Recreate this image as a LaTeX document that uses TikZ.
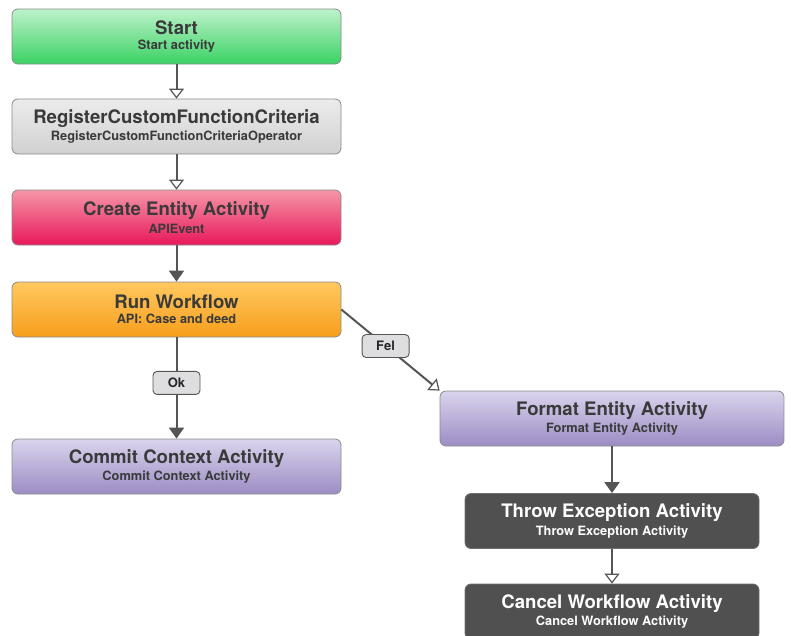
\documentclass[tikz,border=0pt]{standalone}
\usepackage{fontspec}
\setmainfont{TeX Gyre Heros}
\usetikzlibrary{arrows.meta}

\definecolor{linegray}{HTML}{555555}
\definecolor{textgray}{HTML}{3A3A3A}
\definecolor{bordergray}{HTML}{8A8A8A}

\newcommand{\acttext}[2]{{\fontsize{18.6}{20}\selectfont\bfseries #1}\\[3pt]{\fontsize{12.8}{14}\selectfont\bfseries #2}}

\tikzset{
  activity/.style={draw=bordergray, line width=0.8pt, rounded corners=6pt,
    minimum width=#1, minimum height=55pt, align=center, text=textgray,
    inner sep=0pt},
  activity/.default=329pt,
  greenact/.style={activity, top color={rgb,255:red,190;green,242;blue,202}, bottom color={rgb,255:red,58;green,210;blue,100}},
  grayact/.style={activity, top color={rgb,255:red,236;green,236;blue,236}, bottom color={rgb,255:red,208;green,208;blue,210}},
  pinkact/.style={activity, top color={rgb,255:red,245;green,150;blue,168}, bottom color={rgb,255:red,232;green,24;blue,90}},
  orangeact/.style={activity, top color={rgb,255:red,255;green,200;blue,95}, bottom color={rgb,255:red,247;green,158;blue,28}},
  purpleact/.style={activity=#1, top color={rgb,255:red,218;green,212;blue,236}, bottom color={rgb,255:red,156;green,140;blue,196}},
  purpleact/.default=329pt,
  darkact/.style={activity=294pt, fill={rgb,255:red,80;green,80;blue,80}, text=white, draw={rgb,255:red,110;green,110;blue,110}},
  flow/.style={draw=linegray, line width=2pt},
  solidtip/.style={flow, -{Triangle[width=15pt, length=11pt]}},
  opentip/.style={flow, -{Triangle[width=15pt, length=10pt, fill=white, line width=1.2pt]}},
  guard/.style={draw=linegray, line width=0.9pt, rounded corners=4pt, fill={rgb,255:red,222;green,222;blue,224},
    minimum width=47pt, minimum height=23pt, inner sep=0pt, text=black!85,
    font=\fontsize{13}{14}\selectfont\bfseries}
}

\begin{document}
\begin{tikzpicture}[x=1pt, y=-1pt]
    \useasboundingbox (0,0) rectangle (791,635);

    % left column
    \node[greenact] (start) at (176.5,36.5) {\acttext{Start}{Start activity}};
    \node[grayact] (register) at (176.5,126.5) {\acttext{RegisterCustomFunctionCriteria}{RegisterCustomFunctionCriteriaOperator}};
    \node[pinkact] (create) at (176.5,217.5) {\acttext{Create Entity Activity}{APIEvent}};
    \node[orangeact] (run) at (176.5,309.5) {\acttext{Run Workflow}{API: Case and deed}};
    \node[purpleact] (commit) at (176.5,466.5) {\acttext{Commit Context Activity}{Commit Context Activity}};

    % right column
    \node[purpleact=344pt] (format) at (612,418.5) {\acttext{Format Entity Activity}{Format Entity Activity}};
    \node[darkact] (throw) at (612,521) {\acttext{Throw Exception Activity}{Throw Exception Activity}};
    \node[darkact] (cancel) at (612,611.5) {\acttext{Cancel Workflow Activity}{Cancel Workflow Activity}};

    % connectors
    \draw[opentip] (start) -- (register);
    \draw[opentip] (register) -- (create);
    \draw[solidtip] (create) -- (run);
    \draw[solidtip] (run) -- node[guard, pos=0.45] (ok) {Ok} (commit);
    \draw[opentip] (run.east) -- node[guard, pos=0.45] (fel) {Fel} (format.north west);
    \draw[solidtip] (format) -- (throw);
    \draw[opentip] (throw) -- (cancel);
\end{tikzpicture}
\end{document}
